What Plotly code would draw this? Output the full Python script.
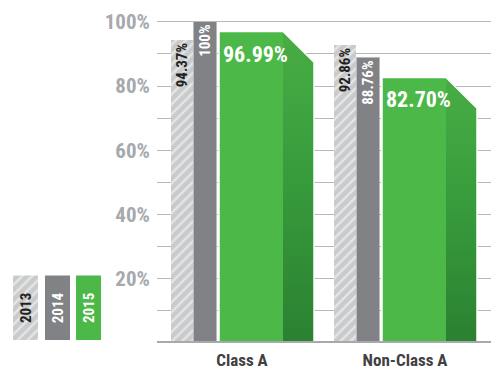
import plotly.graph_objects as go

# ---- data ----
categories = ["Class A", "Non-Class A"]
years = ["2013", "2014", "2015"]
values_2013 = [94.37, 92.86]
values_2014 = [100.0, 88.76]
values_2015 = [96.99, 82.70]
y_tick_values = [20, 40, 60, 80, 100]
y_minor_values = [10, 30, 50, 70, 90]

# ---- styling ----
FONT = ("Roboto Condensed, Noto Sans Condensed, DejaVu Sans Condensed, "
        "Liberation Sans Narrow, Roboto, sans-serif")
W, H = 491, 370
M_L, M_B = 157, 25
PLOT_H = H - M_B
Y_TOP = 106.8
PX_Y = Y_TOP / PLOT_H          # y-units per pixel
GROUP_PX = 163.0                # spacing between category groups in px
HATCH_COL = "#c9cacb"
GRAY_COL = "#808285"
GREEN_COL = "#4cb848"
AXIS_GRAY = "#a7a9ac"
DARK = "#231f20"
HATCH = dict(shape="/", bgcolor=HATCH_COL, fgcolor="white", size=7, solidity=0.35)


def u(px):
    """Convert a within-group pixel offset to x-axis units."""
    return px / GROUP_PX


def label(v):
    return f"{v:.0f}%" if float(v).is_integer() else f"{v:.2f}%"


idx = list(range(len(categories)))
fig = go.Figure()

# 2013 hatched bars
fig.add_trace(go.Bar(
    x=[i + u(11) for i in idx], y=values_2013, width=u(22),
    marker=dict(color=HATCH_COL, line=dict(width=0), pattern=HATCH),
    text=[label(v) for v in values_2013], textposition="inside",
    textangle=-90, insidetextanchor="end", constraintext="none",
    textfont=dict(family=FONT, size=15, color=DARK, weight="bold"),
    hoverinfo="skip", showlegend=False,
))

# 2014 gray bars
fig.add_trace(go.Bar(
    x=[i + u(34.5) for i in idx], y=values_2014, width=u(23),
    marker=dict(color=GRAY_COL, line=dict(width=1, color="#b9babc")),
    text=[label(v) for v in values_2014], textposition="inside",
    textangle=-90, insidetextanchor="end", constraintext="none",
    textfont=dict(family=FONT, size=15, color="white", weight="bold"),
    hoverinfo="skip", showlegend=False,
))

# 2015 green bars: front face with chamfered top, plus a shaded side face
FRONT_L, FRONT_R, SIDE_R = 48, 112, 143
drop = (SIDE_R - FRONT_R) * PX_Y
for i, v in zip(idx, values_2015):
    x0, x1, x2 = i + u(FRONT_L), i + u(FRONT_R), i + u(SIDE_R)
    fig.add_trace(go.Scatter(
        x=[x0, x0, x1, x2, x2, x0], y=[0, v, v, v - drop, 0, 0],
        mode="lines", fill="toself", fillcolor=GREEN_COL,
        line=dict(width=0), hoverinfo="skip", showlegend=False,
    ))
    fig.add_trace(go.Scatter(
        x=[x1, x1, x2, x2, x1], y=[0, v, v - drop, 0, 0],
        mode="lines", fill="toself",
        fillgradient=dict(type="vertical",
                          colorscale=[[0, "#2a8131"], [0.5, "#379a3b"], [1, "#48ad45"]]),
        line=dict(width=0), hoverinfo="skip", showlegend=False,
    ))
    fig.add_trace(go.Scatter(
        x=[x0, x0, x1, x2, x2], y=[0, v, v, v - drop, 0],
        mode="lines", line=dict(width=1.5, color="white"),
        hoverinfo="skip", showlegend=False,
    ))
    fig.add_annotation(
        x=x0, y=v, xanchor="left", yanchor="top", xshift=2, yshift=-8,
        text=label(v), showarrow=False,
        font=dict(family=FONT, size=22, color="white", weight="bold"),
    )

# baseline
fig.add_shape(type="line", xref="x domain", yref="y", x0=0, x1=1, y0=0, y1=0,
              line=dict(color=AXIS_GRAY, width=4))

# year key (swatches with the year written inside)
key_colors = [HATCH_COL, GRAY_COL, GREEN_COL]
key_text_colors = [DARK, "white", "white"]
for k, (yr, col, tc) in enumerate(zip(years, key_colors, key_text_colors)):
    marker = dict(color=col, line=dict(width=0))
    if k == 0:
        marker["pattern"] = HATCH
    fig.add_trace(go.Bar(
        x=[12.5 + k * 31.5], y=[1], width=25, marker=marker,
        text=[yr], textposition="inside", textangle=-90,
        insidetextanchor="middle", constraintext="none",
        textfont=dict(family=FONT, size=15, color=tc, weight="bold"),
        xaxis="x2", yaxis="y2", hoverinfo="skip", showlegend=False,
    ))

fig.update_layout(
    width=W, height=H,
    margin=dict(l=0, r=0, t=0, b=M_B),
    paper_bgcolor="white", plot_bgcolor="white",
    barmode="overlay", bargap=0,
    showlegend=False,
    xaxis=dict(
        domain=[M_L / W, 1],
        range=[-u(14), u(320)],
        tickvals=[i + u(71) for i in idx], ticktext=categories,
        tickfont=dict(family=FONT, size=17, color="#414042", weight="bold"),
        showgrid=False, zeroline=False, showline=False, ticks="",
        ticklabelstandoff=5, fixedrange=True,
    ),
    yaxis=dict(
        range=[0, Y_TOP],
        tickvals=y_tick_values, ticktext=[f"{t}%" for t in y_tick_values],
        tickfont=dict(family=FONT, size=21, color=AXIS_GRAY, weight="bold"),
        showgrid=True, gridcolor="#b8b8b8", gridwidth=1,
        minor=dict(tickvals=y_minor_values, showgrid=True, gridcolor="#b8b8b8", gridwidth=1),
        zeroline=False, showline=False, ticks="", ticklabelstandoff=6,
        fixedrange=True,
    ),
    xaxis2=dict(domain=[13 / W, 101 / W], range=[0, 88], visible=False,
                anchor="y2", fixedrange=True),
    yaxis2=dict(domain=[(PLOT_H - 342) / PLOT_H, (PLOT_H - 277) / PLOT_H],
                range=[0, 1], visible=False, anchor="x2", fixedrange=True),
)

fig.write_html("out.html")
